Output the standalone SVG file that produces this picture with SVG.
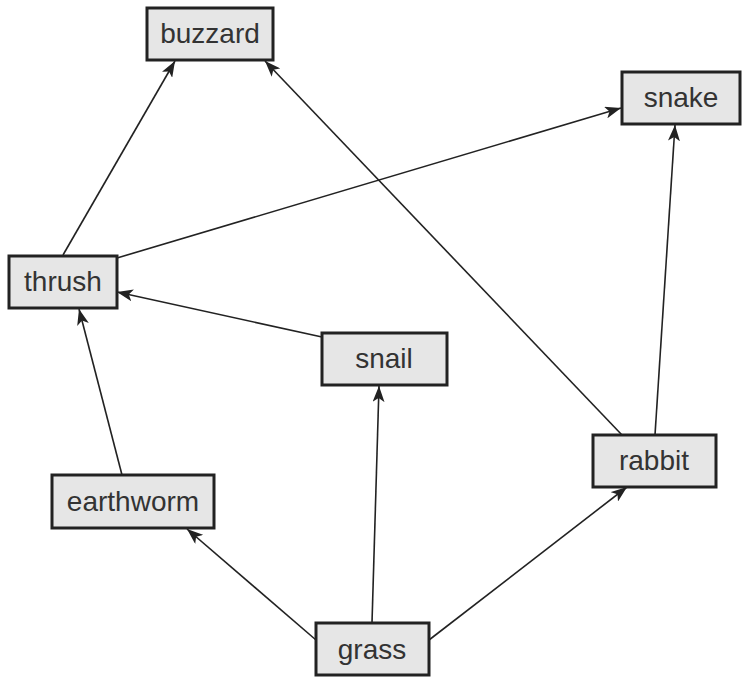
<svg xmlns="http://www.w3.org/2000/svg" width="743" height="677" viewBox="0 0 743 677">
<style>
.box{fill:#e6e6e6;stroke:#222;stroke-width:3}
.lbl{font-family:"Liberation Sans",Arial,sans-serif;font-size:28px;fill:#333;text-anchor:middle}
.edge{stroke:#222;stroke-width:1.6;fill:none;marker-end:url(#ah)}
</style>
<defs>
<marker id="ah" viewBox="0 0 16 12" refX="16" refY="6" markerWidth="16" markerHeight="12" orient="auto" markerUnits="userSpaceOnUse">
<path d="M0,0 L16,6 L0,12 L4,6 z" fill="#222"/>
</marker>
</defs>
<rect width="743" height="677" fill="#fff"/>
<g id="connectors">
<line class="edge" x1="63" y1="255" x2="175" y2="61"/>
<line class="edge" x1="622" y1="435" x2="265" y2="61"/>
<line class="edge" x1="117" y1="258" x2="621" y2="108"/>
<line class="edge" x1="655" y1="435" x2="675" y2="125"/>
<line class="edge" x1="322" y1="337" x2="117" y2="292"/>
<line class="edge" x1="122" y1="475" x2="79" y2="309"/>
<line class="edge" x1="316" y1="640" x2="187" y2="529"/>
<line class="edge" x1="372" y1="623" x2="379" y2="386"/>
<line class="edge" x1="429" y1="640" x2="627" y2="487"/>
</g>
<g id="buzzard"><rect class="box" x="147" y="8" width="126" height="52"/><text class="lbl" x="210" y="43">buzzard</text></g>
<g id="snake"><rect class="box" x="622" y="72" width="118" height="52"/><text class="lbl" x="681" y="107">snake</text></g>
<g id="thrush"><rect class="box" x="9" y="256" width="108" height="52"/><text class="lbl" x="63" y="291">thrush</text></g>
<g id="snail"><rect class="box" x="322" y="333" width="125" height="52"/><text class="lbl" x="384" y="368">snail</text></g>
<g id="earthworm"><rect class="box" x="52" y="475" width="162" height="53"/><text class="lbl" x="133" y="511">earthworm</text></g>
<g id="rabbit"><rect class="box" x="593" y="435" width="123" height="52"/><text class="lbl" x="654" y="470">rabbit</text></g>
<g id="grass"><rect class="box" x="316" y="623" width="113" height="52"/><text class="lbl" x="372" y="659">grass</text></g>
</svg>
